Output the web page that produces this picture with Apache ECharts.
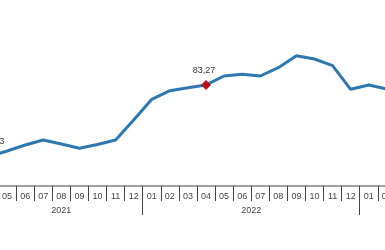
<!DOCTYPE html>
<html>
<head>
<meta charset="utf-8">
<script src="https://cdn.jsdelivr.net/npm/echarts@6/dist/echarts.min.js"></script>
<style>html,body{margin:0;padding:0;background:#fff;overflow:hidden;width:385px;height:250px;position:relative;}#c{position:absolute;left:-23px;top:0;width:458px;height:250px;}</style>
</head>
<body>
<div id="c"></div>
<script>
// Month categories (YYYY-MM)
const categories = ['2021-04','2021-05','2021-06','2021-07','2021-08','2021-09','2021-10','2021-11','2021-12',
  '2022-01','2022-02','2022-03','2022-04','2022-05','2022-06','2022-07','2022-08','2022-09','2022-10','2022-11','2022-12',
  '2023-01','2023-02','2023-03','2023-04'];
// Index values
const values = [24.33, 28.85, 33.79, 37.91, 34.62, 31.07, 34.20, 37.91, 54.40,
  71.46, 78.54, 81.02, 83.27, 90.66, 92.06, 90.66, 97.50, 107.39, 104.67, 99.15, 79.70,
  83.24, 79.95, 78.50, 77.00];
// Highlighted (labelled) points
const highlighted = ['2021-04', '2022-04'];

const yearOf = categories.map(c => c.split('-')[0]);
const years = [...new Set(yearOf)];
const yearCenters = years.map(y => {
  const first = yearOf.indexOf(y), last = yearOf.lastIndexOf(y);
  return {year: y, center: (first + last) / 2};
});

const fmt = v => v.toFixed(2).replace('.', ',');

const seriesData = values.map((v, i) => {
  if (highlighted.indexOf(categories[i]) >= 0) {
    return {
      value: v,
      symbol: 'diamond',
      symbolSize: 10,
      itemStyle: {color: '#B5121B'},
      label: {show: true, position: 'top', distance: 5, fontSize: 9, color: '#333',
        fontFamily: 'Liberation Sans', formatter: p => fmt(p.value), offset: i === 0 ? [4, 0] : [-2, 0]}
    };
  }
  return v;
});

const chart = echarts.init(document.getElementById('c'), null, {renderer: 'canvas'});
chart.setOption({
  animation: false,
  grid: {left: 0, right: 0, top: 4, bottom: 64, containLabel: false},
  xAxis: [
    {
      type: 'category', data: categories, boundaryGap: true, position: 'bottom',
      axisLine: {show: true, lineStyle: {color: '#a0a0a0', width: 2}},
      axisTick: {show: true, interval: 0, length: 15, alignWithLabel: false, lineStyle: {color: '#444', width: 1}},
      axisLabel: {interval: 0, margin: 6, fontSize: 9, color: '#444', fontFamily: 'Liberation Sans',
        formatter: v => v.split('-')[1]},
      splitLine: {show: false}
    },
    {
      type: 'category', data: categories, boundaryGap: true, position: 'bottom',
      axisLine: {show: false},
      axisTick: {show: true, length: 29, alignWithLabel: false,
        interval: (i, v) => v.split('-')[1] === '01', lineStyle: {color: '#444', width: 1}},
      axisLabel: {show: false},
      splitLine: {show: false}
    },
    {
      type: 'value', min: -0.5, max: categories.length - 0.5, interval: 0.5, position: 'bottom',
      axisLine: {show: false}, axisTick: {show: false}, splitLine: {show: false},
      axisLabel: {show: true, margin: 20, fontSize: 9, color: '#444', fontFamily: 'Liberation Sans',
        showMinLabel: true, showMaxLabel: true,
        formatter: v => {
          const f = yearCenters.find(y => Math.abs(y.center - v) < 1e-6);
          return f ? f.year : '';
        }}
    }
  ],
  yAxis: {type: 'value', min: 0, max: 150, show: false, splitLine: {show: false}},
  series: [{
    type: 'line', xAxisIndex: 0, data: seriesData, symbol: 'none',
    lineStyle: {color: '#2E78B2', width: 3},
    itemStyle: {color: '#2E78B2'}
  }]
});
</script>
</body>
</html>
